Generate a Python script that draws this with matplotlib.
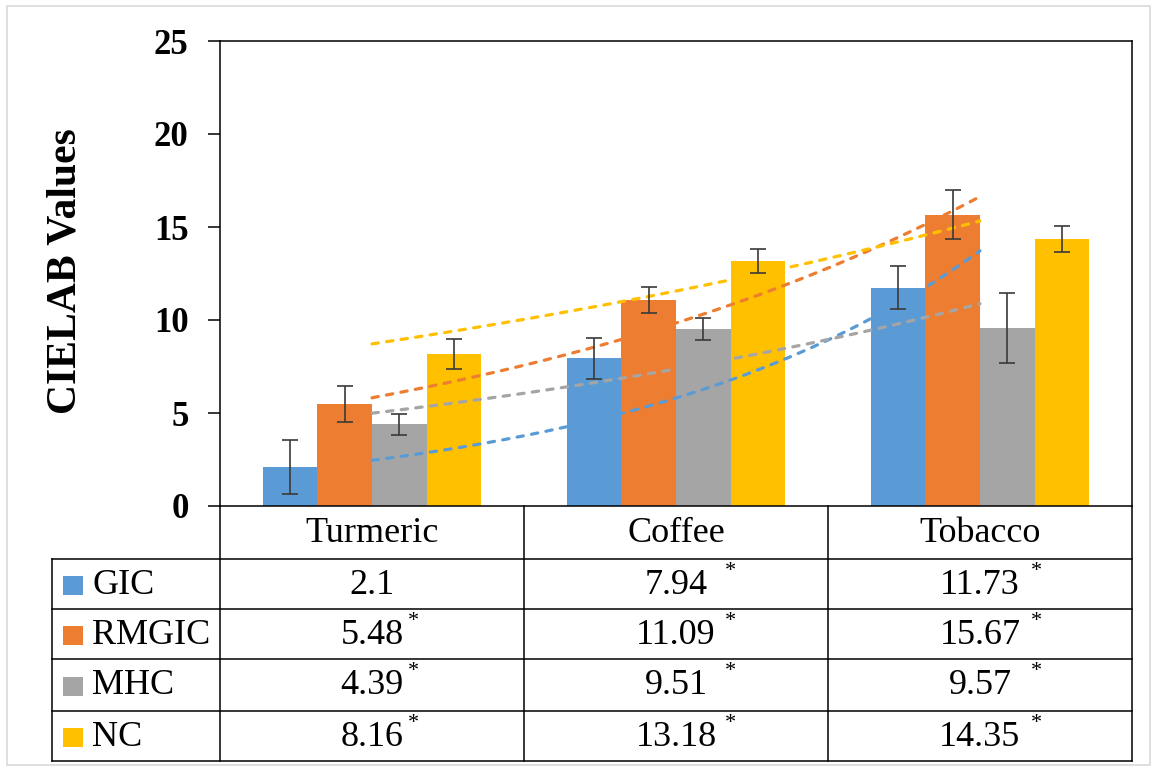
import numpy as np
import matplotlib
matplotlib.use('Agg')
import matplotlib.pyplot as plt
from matplotlib.patches import Rectangle
from matplotlib.lines import Line2D

# ---------------- data ----------------
categories = ['Turmeric', 'Coffee', 'Tobacco']
series_names = ['GIC', 'RMGIC', 'MHC', 'NC']
gic = [2.1, 7.94, 11.73]
rmgic = [5.48, 11.09, 15.67]
mhc = [4.39, 9.51, 9.57]
nc = [8.16, 13.18, 14.35]
gic_err = [1.45, 1.1, 1.15]
rmgic_err = [0.95, 0.7, 1.3]
mhc_err = [0.55, 0.6, 1.9]
nc_err = [0.8, 0.65, 0.7]
gic_sig = [False, True, True]
rmgic_sig = [True, True, True]
mhc_sig = [True, True, True]
nc_sig = [True, True, True]
value_labels = [['2.1', '7.94', '11.73'],
                ['5.48', '11.09', '15.67'],
                ['4.39', '9.51', '9.57'],
                ['8.16', '13.18', '14.35']]
yticks = [0, 5, 10, 15, 20, 25]
ylabel = 'CIELAB Values'

values = [gic, rmgic, mhc, nc]
errors = [gic_err, rmgic_err, mhc_err, nc_err]
sigs = [gic_sig, rmgic_sig, mhc_sig, nc_sig]
colors = ['#5B9BD5', '#ED7D31', '#A5A5A5', '#FFC000']

plt.rcParams['font.family'] = ['Liberation Serif', 'DejaVu Serif']

W, H = 1155, 768
fig = plt.figure(figsize=(W / 100, H / 100), dpi=100)
fig.patch.set_facecolor('white')


def fx(x):
    return x / W


def fy(y):
    return 1 - y / H


# outer chart frame
fig.add_artist(Rectangle((fx(7), fy(765)), fx(1150) - fx(7), fy(6) - fy(765),
                         transform=fig.transFigure, fill=False,
                         edgecolor='#D9D9D9', lw=1.2))

L, R, T, B = 220, 1132, 41, 506
ax = fig.add_axes([fx(L), fy(B), fx(R) - fx(L), fy(T) - fy(B)])
ax.set_xlim(-0.5, 2.5)
ax.set_ylim(0, 25)

x = np.arange(len(categories))
width = 0.18
for i, (vals, errs, c) in enumerate(zip(values, errors, colors)):
    off = (i - 1.5) * width
    ax.bar(x + off, vals, width, color=c, zorder=2)
    ax.errorbar(x + off, vals, yerr=errs, fmt='none', ecolor='#3A3A3A',
                elinewidth=1.2, capsize=5.5, capthick=1.2, zorder=5)

# exponential trendlines (fitted to each series)
xs = np.linspace(0, 2, 200)
for vals, c in zip(values, colors):
    b, a = np.polyfit(x, np.log(vals), 1)
    ax.plot(xs, np.exp(a + b * xs), color=c, lw=2.3,
            ls=(0, (2.0, 2.6)), dash_capstyle='round', zorder=4)

for s in ax.spines.values():
    s.set_color('black')
    s.set_linewidth(1.1)
ax.set_yticks(yticks)
ax.set_yticklabels([str(t) for t in yticks], fontsize=25, fontweight='bold')
ax.tick_params(axis='y', direction='out', length=8.6, width=1.1, pad=14)
ax.set_xticks([])

fig.text(fx(66), fy(271), ylabel, rotation=90, ha='center', va='center',
         fontsize=30, fontweight='bold')

# ---------------- data table ----------------
lc = 'black'
lw = 1.1
col_edges = [220, 524, 828, 1132]
row_edges = [559, 609, 659, 711, 761]
tbl_left = 52


def hline(y, x0, x1):
    fig.add_artist(Line2D([fx(x0), fx(x1)], [fy(y), fy(y)], color=lc, lw=lw,
                          transform=fig.transFigure))


def vline(x_, y0, y1):
    fig.add_artist(Line2D([fx(x_), fx(x_)], [fy(y0), fy(y1)], color=lc, lw=lw,
                          transform=fig.transFigure))


for y in row_edges:
    hline(y, tbl_left, R)
vline(tbl_left, row_edges[0], row_edges[-1])
for xe in col_edges:
    vline(xe, B, row_edges[-1])

col_centers = [(col_edges[k] + col_edges[k + 1]) / 2 for k in range(3)]
star_offsets = [41, 54, 56]
for k, cat in enumerate(categories):
    fig.text(fx(col_centers[k]), fy((B + row_edges[0]) / 2 + 1), cat,
             ha='center', va='center', fontsize=26)

for r, name in enumerate(series_names):
    ytop, ybot = row_edges[r], row_edges[r + 1]
    yc = (ytop + ybot) / 2 + 1
    fig.add_artist(Rectangle((fx(63), fy(yc + 9.5)), fx(20), 19 / H,
                             transform=fig.transFigure, color=colors[r], lw=0))
    fig.text(fx(92), fy(yc), name, ha='left', va='center', fontsize=26)
    for k in range(3):
        fig.text(fx(col_centers[k]), fy(yc), value_labels[r][k],
                 ha='center', va='center', fontsize=26)
        if sigs[r][k]:
            fig.text(fx(col_centers[k] + star_offsets[k]), fy(ytop + 13), '*',
                     ha='center', va='center', fontsize=16)

fig.savefig('out.png', dpi=100, facecolor='white')
